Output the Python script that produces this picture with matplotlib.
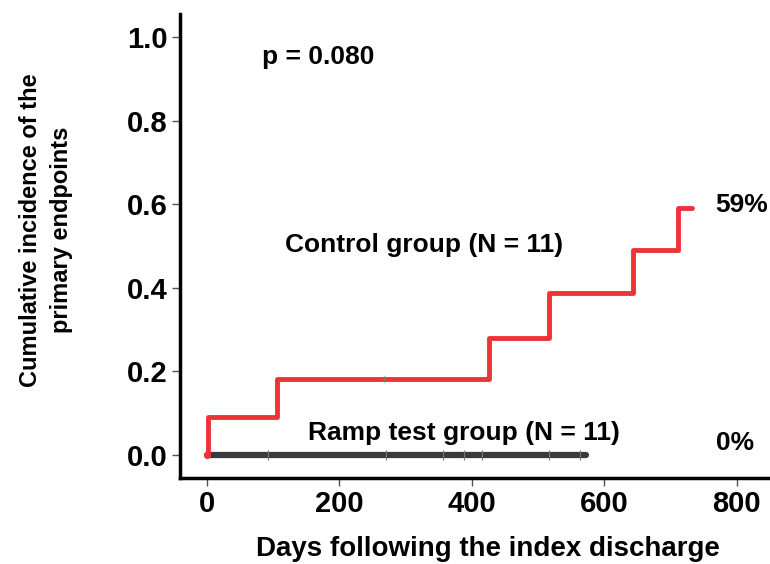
import matplotlib
matplotlib.use("Agg")
import matplotlib.pyplot as plt

plt.rcParams['font.family'] = ['Liberation Sans', 'DejaVu Sans']

# Data
ctrl_days = [0, 2, 106, 426, 517, 644, 711, 732]
ctrl_inc = [0.0, 0.091, 0.182, 0.280, 0.388, 0.490, 0.592, 0.592]
ctrl_censor_days = [268]
ctrl_censor_inc = [0.182]
ramp_days = [0, 573]
ramp_inc = [0.0, 0.0]
ramp_censor_days = [92, 271, 356, 389, 415, 517, 563]
xticks = [0, 200, 400, 600, 800]
yticks = [0.0, 0.2, 0.4, 0.6, 0.8, 1.0]

fig = plt.figure(figsize=(7.7, 5.64), dpi=100)
ax = fig.add_axes([0.2338, 0.1525, 0.7662, 0.8225])

ax.plot(ramp_days, ramp_inc, color='#3a3a3a', lw=4.5, solid_capstyle='round', zorder=2)
ax.plot(ramp_censor_days, [0] * len(ramp_censor_days), linestyle='none', marker='|',
        ms=7, mew=0.8, color='#777777', zorder=3)
ax.plot(ctrl_days, ctrl_inc, drawstyle='steps-post', color='#ee3338', lw=3.5,
        solid_joinstyle='round', solid_capstyle='round', zorder=4)
ax.plot(ctrl_censor_days, ctrl_censor_inc, linestyle='none', marker='+', ms=4,
        mew=0.8, color='#6a8a3a', zorder=5)
ax.plot([0], [0], marker='o', ms=4, color='#ee3338', zorder=5)

ax.set_xlim(-40, 850)
ax.set_ylim(-0.055, 1.055)
ax.set_xticks(xticks)
ax.set_yticks(yticks)
ax.set_xticklabels([str(v) for v in xticks])
ax.set_yticklabels([f"{v:.1f}" for v in yticks])

for s in ['top', 'right']:
    ax.spines[s].set_visible(False)
for s in ['left', 'bottom']:
    ax.spines[s].set_linewidth(2.5)
    ax.spines[s].set_color('black')

ax.tick_params(axis='both', length=6, width=1, color='#555555', labelsize=21, pad=3)
for lab in ax.get_xticklabels() + ax.get_yticklabels():
    lab.set_fontweight('bold')

ax.set_xlabel('Days following the index discharge', fontsize=20, fontweight='bold')
ax.xaxis.set_label_coords(0.522, -0.125)
fig.text(46 / 770, 1 - 230 / 564, 'Cumulative incidence of the\nprimary endpoints',
         fontsize=17, fontweight='bold', rotation=90, ha='center', va='center',
         linespacing=1.4, multialignment='center')

ax.text(168, 0.952, 'p = 0.080', fontsize=19, fontweight='bold', ha='center', va='center')
ax.text(328, 0.502, 'Control group (N = 11)', fontsize=19, fontweight='bold', ha='center', va='center')
ax.text(388, 0.053, 'Ramp test group (N = 11)', fontsize=19, fontweight='bold', ha='center', va='center')
ax.text(768, 0.598, '59%', fontsize=19, fontweight='bold', ha='left', va='center')
ax.text(768, 0.029, '0%', fontsize=19, fontweight='bold', ha='left', va='center')

fig.savefig('out.png', dpi=100)
